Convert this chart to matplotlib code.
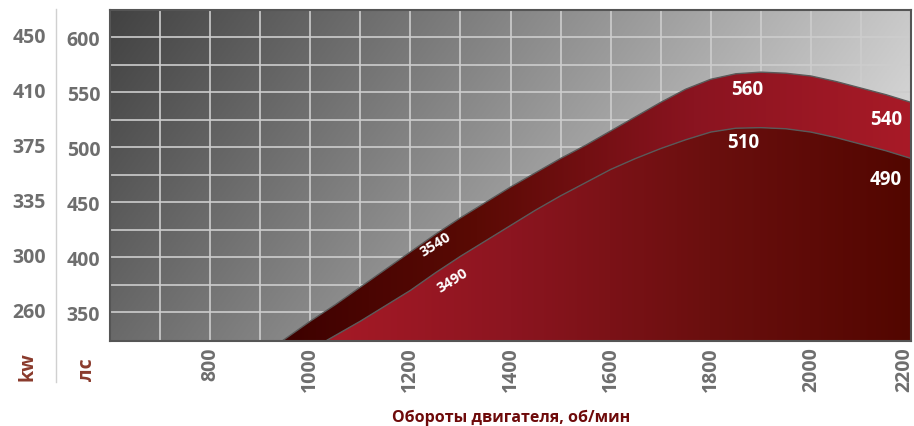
import numpy as np
import matplotlib
matplotlib.use("Agg")
import matplotlib.pyplot as plt
from matplotlib.colors import LinearSegmentedColormap
from matplotlib.patches import Polygon
from matplotlib.lines import Line2D
import matplotlib.transforms as mtransforms

plt.rcParams['font.family'] = ['Open Sans', 'DejaVu Sans']

# ---- data ----
rpm_upper = [900, 950, 1000, 1050, 1100, 1150, 1200, 1250, 1300, 1350, 1400, 1450, 1500,
             1550, 1600, 1650, 1700, 1750, 1800, 1850, 1900, 1950, 2000, 2050, 2100, 2150, 2200]
hp_upper = [310, 326, 342, 357, 373, 389, 405, 421, 436, 450, 464, 477, 490,
            502, 515, 528, 541, 553, 562, 567, 568.5, 567.5, 565, 560, 554, 548, 541]
rpm_lower = [1000, 1050, 1100, 1150, 1200, 1250, 1300, 1350, 1400, 1450, 1500, 1550, 1600,
             1650, 1700, 1750, 1800, 1850, 1900, 1950, 2000, 2050, 2100, 2150, 2200]
hp_lower = [316, 329, 342, 356, 370, 386, 401, 415, 429, 443, 456, 468, 480,
            490, 499, 507, 514, 517.5, 518, 517, 514, 509, 503, 497, 490]

x_ticks = [800, 1000, 1200, 1400, 1600, 1800, 2000, 2200]
hp_ticks = [350, 400, 450, 500, 550, 600]
kw_labels = ['260', '300', '335', '375', '410', '450']

peak_labels = ['560', '510', '540', '490']
peak_pos = [(1872, 553), (1864, 505), (2150, 526), (2150, 471)]
torque_labels = ['3540', '3490']
torque_pos = [(1250, 412), (1284, 380)]

XMIN, XMAX = 600, 2200
YMIN, YMAX = 324, 625

fig = plt.figure(figsize=(9.14, 4.27), dpi=100)
ax = fig.add_axes([110 / 914, 1 - 342 / 427, 801 / 914, 331 / 427])
ax.set_xlim(XMIN, XMAX)
ax.set_ylim(YMIN, YMAX)

# background gradient (grey, dark top-left to light top-right)
nx, ny = 400, 200
px = np.linspace(0, 801, nx)
py = np.linspace(0, 331, ny)
PX, PY = np.meshgrid(px, py)
v = 66 + 0.168 * PX + 0.12 * PY
v = np.clip(v, 0, 255) / 255.0
bg = np.dstack([v, v, v])
ax.imshow(bg, extent=[XMIN, XMAX, YMIN, YMAX], origin='upper', aspect='auto', zorder=0)

# grid
for gx in range(700, 2200, 100):
    ax.axvline(gx, color='#cdcdcd', lw=1.2, zorder=1)
for gy in range(350, 625, 25):
    ax.axhline(gy, color='#cdcdcd', lw=1.2, zorder=1)

# upper band (between curves)
band_verts = list(zip(rpm_upper, hp_upper)) + list(zip(rpm_lower[::-1], hp_lower[::-1])) + [(900, 300)]
band = Polygon(band_verts, closed=True, facecolor='none', edgecolor='none', transform=ax.transData)
ax.add_patch(band)
cmap_band = LinearSegmentedColormap.from_list('band', ['#3a0000', '#5a0a04', '#8a1420', '#a81a27'])
grad = np.linspace(0, 1, 256).reshape(1, -1)
im1 = ax.imshow(grad, extent=[900, XMAX, 290, YMAX], cmap=cmap_band, aspect='auto', zorder=2)
im1.set_clip_path(band)

# lower region (below lower curve)
low_verts = list(zip(rpm_lower, hp_lower)) + [(2200, 290), (1000, 290)]
low = Polygon(low_verts, closed=True, facecolor='none', edgecolor='none', transform=ax.transData)
ax.add_patch(low)
cmap_low = LinearSegmentedColormap.from_list('low', ['#a81a27', '#8c1520', '#6a0f0e', '#520600'])
im2 = ax.imshow(grad, extent=[1000, XMAX, 290, YMAX], cmap=cmap_low, aspect='auto', zorder=3)
im2.set_clip_path(low)

# edges
ax.plot(rpm_upper, hp_upper, color='#5a5a5a', lw=1.0, zorder=4)
ax.plot(rpm_lower, hp_lower, color='#5a5a5a', lw=1.0, zorder=4)

# labels on curves
for t, (x, y) in zip(peak_labels, peak_pos):
    ax.text(x, y, t, color='white', fontsize=13.5, fontweight='bold', ha='center', va='center', zorder=5)
for t, (x, y) in zip(torque_labels, torque_pos):
    ax.text(x, y, t, color='white', fontsize=10.5, fontweight='bold', ha='center', va='center',
            rotation=32, rotation_mode='anchor', zorder=5)

# frame
for s in ax.spines.values():
    s.set_color('#555555')
    s.set_linewidth(1.5)
    s.set_zorder(6)

# ticks
tick_font = dict(fontsize=14, fontweight='bold', color='#6e6e6e')
ax.set_xticks(x_ticks)
ax.set_xticklabels([str(t) for t in x_ticks], rotation=90, **tick_font)
ax.set_yticks(hp_ticks)
ax.set_yticklabels([str(t) for t in hp_ticks], **tick_font)
ax.tick_params(axis='both', length=0)
ax.tick_params(axis='y', pad=7)
ax.tick_params(axis='x', pad=4)
last = ax.get_xticklabels()[-1]
last.set_transform(last.get_transform() + mtransforms.ScaledTranslation(-7 / 100, 0, fig.dpi_scale_trans))

trans = mtransforms.blended_transform_factory(fig.transFigure, ax.transData)
for lab, y in zip(kw_labels, hp_ticks):
    ax.text(46 / 914, y, lab, transform=trans, ha='right', va='center', clip_on=False, **tick_font)

# unit labels
fig.text(28 / 914, 1 - 367 / 427, 'kw', rotation=90, ha='center', va='center', fontsize=14,
         fontweight='bold', color='#8a3a2c')
fig.text(87 / 914, 1 - 370 / 427, 'лс', rotation=90, ha='center', va='center', fontsize=14,
         fontweight='bold', color='#8a3a2c')

# separator line
fig.add_artist(Line2D([55.5 / 914, 55.5 / 914], [1 - 10 / 427, 1 - 383 / 427],
                      transform=fig.transFigure, color='#d0d0d0', lw=1.0))

fig.text(511 / 914, 1 - 418 / 427, 'Обороты двигателя, об/мин', ha='center', va='center',
         fontsize=11.5, fontweight='bold', color='#6e0a0a')

fig.savefig('out.png', dpi=100)
